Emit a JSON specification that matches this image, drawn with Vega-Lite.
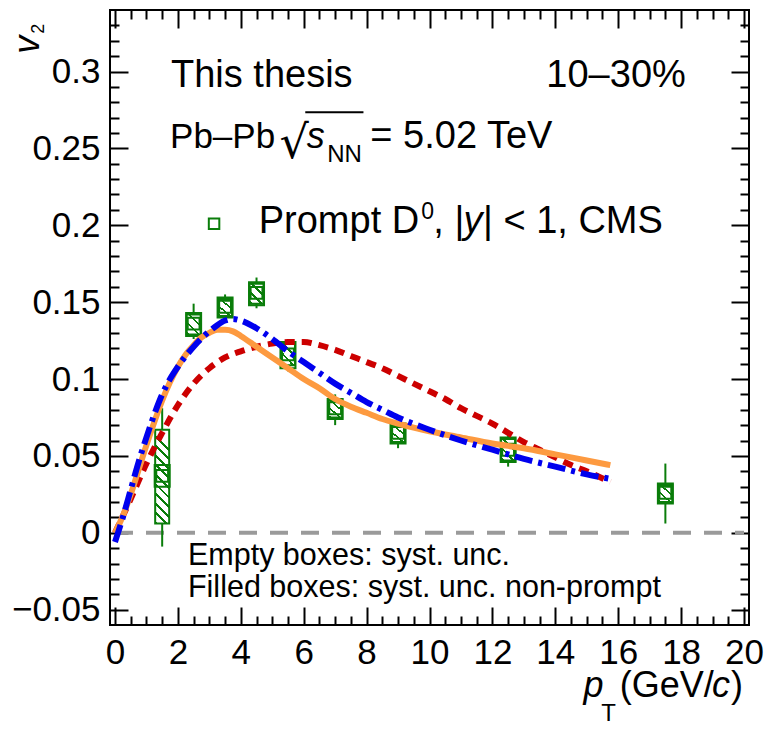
{
  "$schema": "https://vega.github.io/schema/vega-lite/v6.json",
  "width": 639,
  "height": 615,
  "autosize": {"type": "none"},
  "padding": {"left": 110, "top": 10, "right": 18, "bottom": 106},
  "background": "#ffffff",
  "config": {
    "view": {"stroke": "#000000", "strokeWidth": 2},
    "font": "Liberation Sans",
    "axis": {"domain": false, "grid": false, "tickColor": "#000000", "tickWidth": 2, "labelFont": "Liberation Sans", "labelFontSize": 35, "labelColor": "#000000", "labelOverlap": false, "labelBound": false}
  },
  "resolve": {"axis": {"x": "independent", "y": "independent"}},
  "datasets": {
    "points": [
      {"pt": 1.5, "v2": 0.037, "stat_lo": -0.009, "stat_hi": 0.081, "syst_lo": 0.030, "syst_hi": 0.044, "np_lo": 0.006, "np_hi": 0.067},
      {"pt": 2.5, "v2": 0.136, "stat_lo": 0.126, "stat_hi": 0.149, "syst_lo": 0.128, "syst_hi": 0.143, "np_lo": 0.129, "np_hi": 0.142},
      {"pt": 3.5, "v2": 0.147, "stat_lo": 0.138, "stat_hi": 0.155, "syst_lo": 0.140, "syst_hi": 0.153, "np_lo": 0.141, "np_hi": 0.152},
      {"pt": 4.5, "v2": 0.156, "stat_lo": 0.146, "stat_hi": 0.166, "syst_lo": 0.148, "syst_hi": 0.163, "np_lo": 0.149, "np_hi": 0.162},
      {"pt": 5.5, "v2": 0.116, "stat_lo": 0.105, "stat_hi": 0.126, "syst_lo": 0.107, "syst_hi": 0.124, "np_lo": 0.109, "np_hi": 0.123},
      {"pt": 7, "v2": 0.081, "stat_lo": 0.070, "stat_hi": 0.090, "syst_lo": 0.074, "syst_hi": 0.087, "np_lo": 0.075, "np_hi": 0.086},
      {"pt": 9, "v2": 0.065, "stat_lo": 0.055, "stat_hi": 0.072, "syst_lo": 0.058, "syst_hi": 0.071, "np_lo": 0.059, "np_hi": 0.070},
      {"pt": 12.5, "v2": 0.054, "stat_lo": 0.043, "stat_hi": 0.064, "syst_lo": 0.046, "syst_hi": 0.062, "np_lo": 0.047, "np_hi": 0.061},
      {"pt": 17.5, "v2": 0.026, "stat_lo": 0.006, "stat_hi": 0.045, "syst_lo": 0.019, "syst_hi": 0.032, "np_lo": 0.020, "np_hi": 0.031}
    ],
    "orange": [
      {"pt": 0, "v2": 0}, {"pt": 0.25, "v2": 0.011}, {"pt": 0.5, "v2": 0.025}, {"pt": 0.75, "v2": 0.041},
      {"pt": 1.0, "v2": 0.057}, {"pt": 1.25, "v2": 0.072}, {"pt": 1.5, "v2": 0.086}, {"pt": 1.75, "v2": 0.098},
      {"pt": 2.0, "v2": 0.108}, {"pt": 2.25, "v2": 0.116}, {"pt": 2.5, "v2": 0.122}, {"pt": 2.75, "v2": 0.127},
      {"pt": 3.0, "v2": 0.130}, {"pt": 3.25, "v2": 0.132}, {"pt": 3.5, "v2": 0.132}, {"pt": 3.75, "v2": 0.131},
      {"pt": 4.0, "v2": 0.128}, {"pt": 4.5, "v2": 0.121}, {"pt": 5.0, "v2": 0.114}, {"pt": 5.5, "v2": 0.107},
      {"pt": 6.0, "v2": 0.100}, {"pt": 6.5, "v2": 0.094}, {"pt": 7.0, "v2": 0.087}, {"pt": 7.5, "v2": 0.082},
      {"pt": 8.0, "v2": 0.078}, {"pt": 8.5, "v2": 0.074}, {"pt": 9.0, "v2": 0.071}, {"pt": 10.0, "v2": 0.066},
      {"pt": 11.0, "v2": 0.062}, {"pt": 12.0, "v2": 0.058}, {"pt": 13.0, "v2": 0.055}, {"pt": 14.0, "v2": 0.051},
      {"pt": 15.0, "v2": 0.047}, {"pt": 15.75, "v2": 0.044}
    ],
    "blue": [
      {"pt": 0, "v2": -0.006}, {"pt": 0.25, "v2": 0.010}, {"pt": 0.5, "v2": 0.028}, {"pt": 0.75, "v2": 0.046},
      {"pt": 1.0, "v2": 0.062}, {"pt": 1.25, "v2": 0.077}, {"pt": 1.5, "v2": 0.090}, {"pt": 1.75, "v2": 0.100},
      {"pt": 2.0, "v2": 0.108}, {"pt": 2.5, "v2": 0.121}, {"pt": 3.0, "v2": 0.131}, {"pt": 3.25, "v2": 0.135},
      {"pt": 3.5, "v2": 0.138}, {"pt": 3.75, "v2": 0.139}, {"pt": 4.0, "v2": 0.138}, {"pt": 4.5, "v2": 0.133},
      {"pt": 5.0, "v2": 0.126}, {"pt": 5.5, "v2": 0.118}, {"pt": 6.0, "v2": 0.111}, {"pt": 6.5, "v2": 0.104},
      {"pt": 7.0, "v2": 0.097}, {"pt": 7.5, "v2": 0.091}, {"pt": 8.0, "v2": 0.085}, {"pt": 8.5, "v2": 0.080},
      {"pt": 9.0, "v2": 0.075}, {"pt": 10.0, "v2": 0.067}, {"pt": 11.0, "v2": 0.060}, {"pt": 12.0, "v2": 0.054},
      {"pt": 13.0, "v2": 0.048}, {"pt": 14.0, "v2": 0.043}, {"pt": 15.0, "v2": 0.038}, {"pt": 15.75, "v2": 0.035}
    ],
    "red": [
      {"pt": 0, "v2": 0}, {"pt": 0.5, "v2": 0.022}, {"pt": 1.0, "v2": 0.045}, {"pt": 1.5, "v2": 0.065},
      {"pt": 2.0, "v2": 0.083}, {"pt": 2.5, "v2": 0.097}, {"pt": 3.0, "v2": 0.107}, {"pt": 3.5, "v2": 0.114},
      {"pt": 4.0, "v2": 0.118}, {"pt": 4.5, "v2": 0.121}, {"pt": 5.0, "v2": 0.123}, {"pt": 5.5, "v2": 0.124},
      {"pt": 6.0, "v2": 0.124}, {"pt": 6.5, "v2": 0.122}, {"pt": 7.0, "v2": 0.119}, {"pt": 7.5, "v2": 0.115},
      {"pt": 8.0, "v2": 0.111}, {"pt": 8.5, "v2": 0.107}, {"pt": 9.0, "v2": 0.102}, {"pt": 9.5, "v2": 0.097},
      {"pt": 10.0, "v2": 0.092}, {"pt": 10.5, "v2": 0.087}, {"pt": 11.0, "v2": 0.081}, {"pt": 11.5, "v2": 0.076},
      {"pt": 12.0, "v2": 0.071}, {"pt": 12.5, "v2": 0.065}, {"pt": 13.0, "v2": 0.059}, {"pt": 13.5, "v2": 0.054},
      {"pt": 14.0, "v2": 0.049}, {"pt": 14.5, "v2": 0.044}, {"pt": 15.0, "v2": 0.040}, {"pt": 15.75, "v2": 0.033}
    ]
  },
  "layer": [
    {
      "data": {"values": [{}]},
      "mark": {"type": "rule", "color": "#9a9a9a", "strokeWidth": 4, "strokeDash": [18, 13]},
      "encoding": {
        "x": {"datum": 0, "type": "quantitative", "axis": null},
        "x2": {"datum": 20},
        "y": {"datum": 0, "type": "quantitative", "axis": null}
      }
    },
    {
      "data": {"name": "points"},
      "mark": {"type": "rule", "color": "#0a7d0a", "strokeWidth": 2},
      "encoding": {
        "x": {"field": "pt", "type": "quantitative", "axis": {"orient": "top", "values": [0.5,1,1.5,2.5,3,3.5,4.5,5,5.5,6.5,7,7.5,8.5,9,9.5,10.5,11,11.5,12.5,13,13.5,14.5,15,15.5,16.5,17,17.5,18.5,19,19.5], "tickSize": -9, "labels": false, "title": null}},
        "y": {"field": "stat_lo", "type": "quantitative", "axis": {"orient": "right", "values": [-0.04,-0.03,-0.02,-0.01,0.01,0.02,0.03,0.04,0.06,0.07,0.08,0.09,0.11,0.12,0.13,0.14,0.16,0.17,0.18,0.19,0.21,0.22,0.23,0.24,0.26,0.27,0.28,0.29,0.31,0.32,0.33], "tickSize": -9, "labels": false, "title": null}},
        "y2": {"field": "stat_hi"}
      }
    },
    {
      "data": {"name": "points"},
      "transform": [{"filter": "datum.pt == 1.5"}],
      "mark": {"type": "bar", "width": 14, "stroke": "#0a7d0a", "strokeWidth": 2,
        "fill": {"gradient": "linear", "x1": 0.149, "y1": 0, "x2": 0, "y2": 1, "stops": [
          {"offset": 0, "color": "#ffffff"},
          {"offset": 0.07, "color": "#ffffff"}, {"offset": 0.07, "color": "#0a7d0a"}, {"offset": 0.1, "color": "#0a7d0a"}, {"offset": 0.1, "color": "#ffffff"},
          {"offset": 0.17, "color": "#ffffff"}, {"offset": 0.17, "color": "#0a7d0a"}, {"offset": 0.2, "color": "#0a7d0a"}, {"offset": 0.2, "color": "#ffffff"},
          {"offset": 0.27, "color": "#ffffff"}, {"offset": 0.27, "color": "#0a7d0a"}, {"offset": 0.3, "color": "#0a7d0a"}, {"offset": 0.3, "color": "#ffffff"},
          {"offset": 0.37, "color": "#ffffff"}, {"offset": 0.37, "color": "#0a7d0a"}, {"offset": 0.4, "color": "#0a7d0a"}, {"offset": 0.4, "color": "#ffffff"},
          {"offset": 0.47, "color": "#ffffff"}, {"offset": 0.47, "color": "#0a7d0a"}, {"offset": 0.5, "color": "#0a7d0a"}, {"offset": 0.5, "color": "#ffffff"},
          {"offset": 0.57, "color": "#ffffff"}, {"offset": 0.57, "color": "#0a7d0a"}, {"offset": 0.6, "color": "#0a7d0a"}, {"offset": 0.6, "color": "#ffffff"},
          {"offset": 0.67, "color": "#ffffff"}, {"offset": 0.67, "color": "#0a7d0a"}, {"offset": 0.7, "color": "#0a7d0a"}, {"offset": 0.7, "color": "#ffffff"},
          {"offset": 0.77, "color": "#ffffff"}, {"offset": 0.77, "color": "#0a7d0a"}, {"offset": 0.8, "color": "#0a7d0a"}, {"offset": 0.8, "color": "#ffffff"},
          {"offset": 0.87, "color": "#ffffff"}, {"offset": 0.87, "color": "#0a7d0a"}, {"offset": 0.9, "color": "#0a7d0a"}, {"offset": 0.9, "color": "#ffffff"},
          {"offset": 0.97, "color": "#ffffff"}, {"offset": 0.97, "color": "#0a7d0a"}, {"offset": 1, "color": "#0a7d0a"}
        ]}},
      "encoding": {
        "x": {"field": "pt", "type": "quantitative", "axis": null},
        "y": {"field": "np_lo", "type": "quantitative", "axis": null},
        "y2": {"field": "np_hi"}
      }
    },
    {
      "data": {"name": "points"},
      "transform": [{"filter": "datum.pt != 1.5"}],
      "mark": {"type": "bar", "width": 14, "stroke": "#0a7d0a", "strokeWidth": 2,
        "fill": {"gradient": "linear", "x1": 0.7, "y1": 0, "x2": 0, "y2": 1, "stops": [
          {"offset": 0, "color": "#ffffff"},
          {"offset": 0.22, "color": "#ffffff"}, {"offset": 0.22, "color": "#0a7d0a"}, {"offset": 0.3, "color": "#0a7d0a"}, {"offset": 0.3, "color": "#ffffff"},
          {"offset": 0.55, "color": "#ffffff"}, {"offset": 0.55, "color": "#0a7d0a"}, {"offset": 0.63, "color": "#0a7d0a"}, {"offset": 0.63, "color": "#ffffff"},
          {"offset": 0.88, "color": "#ffffff"}, {"offset": 0.88, "color": "#0a7d0a"}, {"offset": 0.96, "color": "#0a7d0a"}, {"offset": 0.96, "color": "#ffffff"},
          {"offset": 1, "color": "#ffffff"}
        ]}},
      "encoding": {
        "x": {"field": "pt", "type": "quantitative", "axis": null},
        "y": {"field": "np_lo", "type": "quantitative", "axis": null},
        "y2": {"field": "np_hi"}
      }
    },
    {
      "data": {"name": "points"},
      "mark": {"type": "bar", "width": 15, "stroke": "#0a7d0a", "strokeWidth": 2, "fill": "#ffffff", "fillOpacity": 0},
      "encoding": {
        "x": {"field": "pt", "type": "quantitative", "axis": null},
        "y": {"field": "syst_lo", "type": "quantitative", "axis": null},
        "y2": {"field": "syst_hi"}
      }
    },
    {
      "data": {"name": "points"},
      "mark": {"type": "point", "shape": "square", "filled": false, "stroke": "#0a7d0a", "strokeWidth": 2, "size": 140, "opacity": 1},
      "encoding": {
        "x": {"field": "pt", "type": "quantitative", "axis": null},
        "y": {"field": "v2", "type": "quantitative", "axis": null}
      }
    },
    {
      "data": {"name": "red"},
      "mark": {"type": "line", "color": "#cc0000", "strokeWidth": 6, "strokeDash": [10, 7], "interpolate": "monotone"},
      "encoding": {
        "x": {"field": "pt", "type": "quantitative", "axis": {"orient": "top", "values": [0,2,4,6,8,10,12,14,16,18,20], "tickSize": -18, "labels": false, "title": null}},
        "y": {"field": "v2", "type": "quantitative", "axis": {"orient": "right", "values": [-0.05,0,0.05,0.1,0.15,0.2,0.25,0.3], "tickSize": -18, "labels": false, "title": null}}
      }
    },
    {
      "data": {"name": "orange"},
      "mark": {"type": "line", "color": "#fd9a40", "strokeWidth": 6, "interpolate": "monotone"},
      "encoding": {
        "x": {"field": "pt", "type": "quantitative", "scale": {"domain": [0, 20], "nice": false, "zero": false}, "axis": {"orient": "bottom", "values": [0,2,4,6,8,10,12,14,16,18,20], "tickSize": -18, "labelPadding": 28, "format": "~g", "title": null}},
        "y": {"field": "v2", "type": "quantitative", "scale": {"domain": [-0.06, 0.34], "nice": false, "zero": false}, "axis": {"orient": "left", "values": [-0.05,0,0.05,0.1,0.15,0.2,0.25,0.3], "tickSize": -18, "labelPadding": 28, "labelFlush": false, "format": "~g", "title": null}}
      }
    },
    {
      "data": {"name": "blue"},
      "mark": {"type": "line", "color": "#0000ee", "strokeWidth": 6, "strokeDash": [18, 6, 4, 6], "interpolate": "monotone"},
      "encoding": {
        "x": {"field": "pt", "type": "quantitative", "axis": {"orient": "bottom", "values": [0.5,1,1.5,2.5,3,3.5,4.5,5,5.5,6.5,7,7.5,8.5,9,9.5,10.5,11,11.5,12.5,13,13.5,14.5,15,15.5,16.5,17,17.5,18.5,19,19.5], "tickSize": -9, "labels": false, "title": null}},
        "y": {"field": "v2", "type": "quantitative", "axis": {"orient": "left", "values": [-0.04,-0.03,-0.02,-0.01,0.01,0.02,0.03,0.04,0.06,0.07,0.08,0.09,0.11,0.12,0.13,0.14,0.16,0.17,0.18,0.19,0.21,0.22,0.23,0.24,0.26,0.27,0.28,0.29,0.31,0.32,0.33], "tickSize": -9, "labels": false, "title": null}}
      }
    },
    {
      "data": {"values": [{}]},
      "mark": {"type": "text", "text": "This thesis", "align": "left", "baseline": "alphabetic", "fontSize": 38, "font": "Liberation Sans", "color": "#000000"},
      "encoding": {"x": {"datum": 1.78, "type": "quantitative", "axis": null}, "y": {"datum": 0.29, "type": "quantitative", "axis": null}}
    },
    {
      "data": {"values": [{}]},
      "mark": {"type": "text", "text": "10–30%", "align": "right", "baseline": "alphabetic", "fontSize": 38, "font": "Liberation Sans", "color": "#000000"},
      "encoding": {"x": {"datum": 18.15, "type": "quantitative", "axis": null}, "y": {"datum": 0.29, "type": "quantitative", "axis": null}}
    },
    {
      "data": {"values": [{}]},
      "mark": {"type": "text", "text": "Pb–Pb", "align": "left", "baseline": "alphabetic", "fontSize": 35, "font": "Liberation Sans", "color": "#000000"},
      "encoding": {"x": {"datum": 1.75, "type": "quantitative", "axis": null}, "y": {"datum": 0.25, "type": "quantitative", "axis": null}}
    },
    {
      "data": {"values": [{}]},
      "mark": {"type": "text", "text": "√", "align": "left", "baseline": "alphabetic", "fontSize": 46, "font": "DejaVu Sans", "color": "#000000"},
      "encoding": {"x": {"datum": 5.23, "type": "quantitative", "axis": null}, "y": {"datum": 0.244, "type": "quantitative", "axis": null}}
    },
    {
      "data": {"values": [{}]},
      "mark": {"type": "rule", "color": "#000000", "strokeWidth": 2},
      "encoding": {"x": {"datum": 6.05, "type": "quantitative", "axis": null}, "x2": {"datum": 7.9}, "y": {"datum": 0.2735, "type": "quantitative", "axis": null}}
    },
    {
      "data": {"values": [{}]},
      "mark": {"type": "text", "text": "s", "align": "left", "baseline": "alphabetic", "fontSize": 36, "fontStyle": "italic", "font": "Liberation Sans", "color": "#000000"},
      "encoding": {"x": {"datum": 6.1, "type": "quantitative", "axis": null}, "y": {"datum": 0.25, "type": "quantitative", "axis": null}}
    },
    {
      "data": {"values": [{}]},
      "mark": {"type": "text", "text": "NN", "align": "left", "baseline": "alphabetic", "fontSize": 24, "font": "Liberation Sans", "color": "#000000"},
      "encoding": {"x": {"datum": 6.75, "type": "quantitative", "axis": null}, "y": {"datum": 0.241, "type": "quantitative", "axis": null}}
    },
    {
      "data": {"values": [{}]},
      "mark": {"type": "text", "text": "= 5.02 TeV", "align": "left", "baseline": "alphabetic", "fontSize": 38, "font": "Liberation Sans", "color": "#000000"},
      "encoding": {"x": {"datum": 8.12, "type": "quantitative", "axis": null}, "y": {"datum": 0.25, "type": "quantitative", "axis": null}}
    },
    {
      "data": {"values": [{}]},
      "mark": {"type": "point", "shape": "square", "filled": false, "stroke": "#0a7d0a", "strokeWidth": 2, "size": 110, "opacity": 1},
      "encoding": {"x": {"datum": 3.15, "type": "quantitative", "axis": null}, "y": {"datum": 0.201, "type": "quantitative", "axis": null}}
    },
    {
      "data": {"values": [{}]},
      "mark": {"type": "text", "text": "Prompt D", "align": "left", "baseline": "alphabetic", "fontSize": 38, "font": "Liberation Sans", "color": "#000000"},
      "encoding": {"x": {"datum": 4.57, "type": "quantitative", "axis": null}, "y": {"datum": 0.195, "type": "quantitative", "axis": null}}
    },
    {
      "data": {"values": [{}]},
      "mark": {"type": "text", "text": "0", "align": "left", "baseline": "alphabetic", "fontSize": 23, "font": "Liberation Sans", "color": "#000000"},
      "encoding": {"x": {"datum": 9.74, "type": "quantitative", "axis": null}, "y": {"datum": 0.2042, "type": "quantitative", "axis": null}}
    },
    {
      "data": {"values": [{}]},
      "mark": {"type": "text", "text": ", |", "align": "left", "baseline": "alphabetic", "fontSize": 38, "font": "Liberation Sans", "color": "#000000"},
      "encoding": {"x": {"datum": 10.12, "type": "quantitative", "axis": null}, "y": {"datum": 0.195, "type": "quantitative", "axis": null}}
    },
    {
      "data": {"values": [{}]},
      "mark": {"type": "text", "text": "y", "align": "left", "baseline": "alphabetic", "fontSize": 38, "fontStyle": "italic", "font": "Liberation Sans", "color": "#000000"},
      "encoding": {"x": {"datum": 11.08, "type": "quantitative", "axis": null}, "y": {"datum": 0.195, "type": "quantitative", "axis": null}}
    },
    {
      "data": {"values": [{}]},
      "mark": {"type": "text", "text": "| < 1, CMS", "align": "left", "baseline": "alphabetic", "fontSize": 38, "font": "Liberation Sans", "color": "#000000"},
      "encoding": {"x": {"datum": 11.7, "type": "quantitative", "axis": null}, "y": {"datum": 0.195, "type": "quantitative", "axis": null}}
    },
    {
      "data": {"values": [{}]},
      "mark": {"type": "text", "text": "Empty boxes: syst. unc.", "align": "left", "baseline": "alphabetic", "fontSize": 30.5, "font": "Liberation Sans", "color": "#000000"},
      "encoding": {"x": {"datum": 2.32, "type": "quantitative", "axis": null}, "y": {"datum": -0.0208, "type": "quantitative", "axis": null}}
    },
    {
      "data": {"values": [{}]},
      "mark": {"type": "text", "text": "Filled boxes: syst. unc. non-prompt", "align": "left", "baseline": "alphabetic", "fontSize": 30.5, "font": "Liberation Sans", "color": "#000000"},
      "encoding": {"x": {"datum": 2.32, "type": "quantitative", "axis": null}, "y": {"datum": -0.0416, "type": "quantitative", "axis": null}}
    },
    {
      "data": {"values": [{}]},
      "mark": {"type": "text", "text": "p", "align": "left", "baseline": "alphabetic", "fontSize": 36, "fontStyle": "italic", "font": "Liberation Sans", "color": "#000000"},
      "encoding": {"x": {"datum": 14.9, "type": "quantitative", "axis": null}, "y": {"datum": -0.107, "type": "quantitative", "axis": null}}
    },
    {
      "data": {"values": [{}]},
      "mark": {"type": "text", "text": "T", "align": "left", "baseline": "alphabetic", "fontSize": 24, "font": "Liberation Sans", "color": "#000000"},
      "encoding": {"x": {"datum": 15.46, "type": "quantitative", "axis": null}, "y": {"datum": -0.1225, "type": "quantitative", "axis": null}}
    },
    {
      "data": {"values": [{}]},
      "mark": {"type": "text", "text": "(GeV/", "align": "left", "baseline": "alphabetic", "fontSize": 36, "font": "Liberation Sans", "color": "#000000"},
      "encoding": {"x": {"datum": 16.05, "type": "quantitative", "axis": null}, "y": {"datum": -0.107, "type": "quantitative", "axis": null}}
    },
    {
      "data": {"values": [{}]},
      "mark": {"type": "text", "text": "c", "align": "left", "baseline": "alphabetic", "fontSize": 36, "fontStyle": "italic", "font": "Liberation Sans", "color": "#000000"},
      "encoding": {"x": {"datum": 18.98, "type": "quantitative", "axis": null}, "y": {"datum": -0.107, "type": "quantitative", "axis": null}}
    },
    {
      "data": {"values": [{}]},
      "mark": {"type": "text", "text": ")", "align": "right", "baseline": "alphabetic", "fontSize": 36, "font": "Liberation Sans", "color": "#000000"},
      "encoding": {"x": {"datum": 19.97, "type": "quantitative", "axis": null}, "y": {"datum": -0.107, "type": "quantitative", "axis": null}}
    },
    {
      "data": {"values": [{}]},
      "mark": {"type": "text", "text": "v", "angle": 270, "align": "left", "baseline": "alphabetic", "fontSize": 36, "fontStyle": "italic", "font": "Liberation Sans", "color": "#000000"},
      "encoding": {"x": {"datum": -2.41, "type": "quantitative", "axis": null}, "y": {"datum": 0.3115, "type": "quantitative", "axis": null}}
    },
    {
      "data": {"values": [{}]},
      "mark": {"type": "text", "text": "2", "angle": 270, "align": "left", "baseline": "alphabetic", "fontSize": 18, "font": "Liberation Sans", "color": "#000000"},
      "encoding": {"x": {"datum": -2.27, "type": "quantitative", "axis": null}, "y": {"datum": 0.3245, "type": "quantitative", "axis": null}}
    }
  ]
}
